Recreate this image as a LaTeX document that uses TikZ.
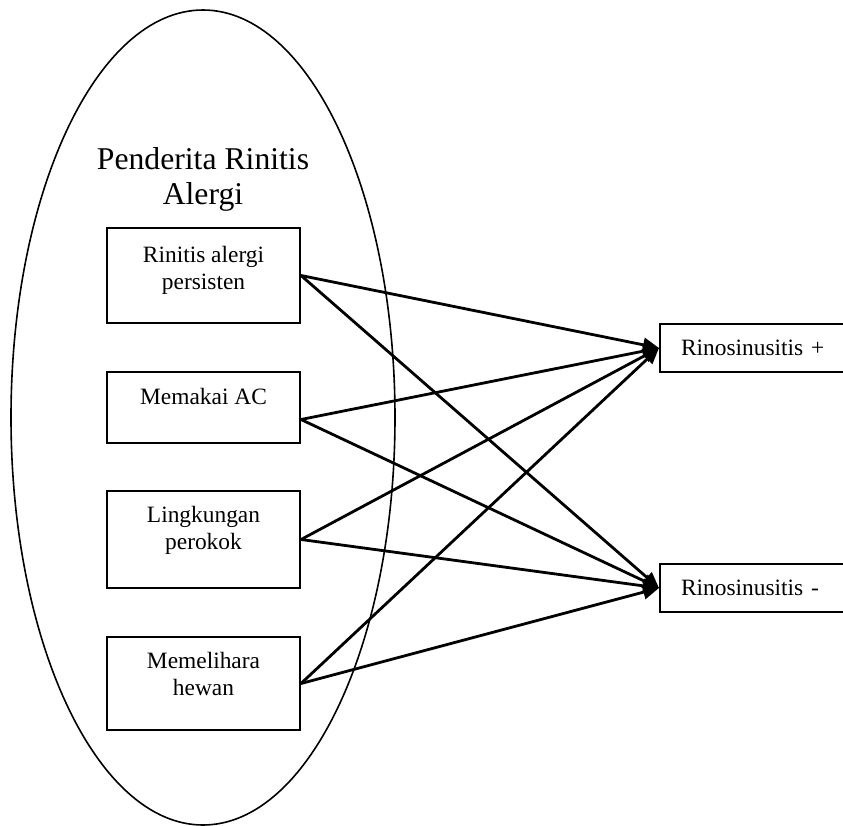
\documentclass[tikz,border=0pt]{standalone}
\usepackage{fontspec}
\setmainfont{Liberation Serif}
\usetikzlibrary{arrows.meta,positioning}
\tikzset{>/.tip={Triangle[length=8pt,width=7pt]},
  factor/.style={draw,line width=1pt,minimum width=96.5pt},
  factortext/.style={inner sep=0pt,align=center,font=\fontsize{11.7}{13.5}\selectfont},
  outcome/.style={draw,line width=1pt,anchor=west,minimum height=24pt,inner xsep=10.5pt,
    text width=100pt,align=left,font=\fontsize{11.7}{13.5}\selectfont},
  link/.style={->,line width=1.4pt}}

\begin{document}
\begin{tikzpicture}[x=0.5pt,y=-0.5pt]
\useasboundingbox (0,0) rectangle (843,826);
\clip (0,0) rectangle (843,826);
\draw[line width=0.8pt] (203,417.5) ellipse [x radius=192, y radius=407.5];
\node (title) [anchor=north,inner sep=0pt,align=center,font=\fontsize{15.85}{17.5}\selectfont]
  at (203,147.5) {Penderita Rinitis\\Alergi};
% risk factors
\node[factor,minimum height=47.5pt] (f1) at (203.5,275.5) {};
\node[factor,minimum height=35.5pt] (f2) at (203.5,407.5) {};
\node[factor,minimum height=48.5pt] (f3) at (203.5,539.5) {};
\node[factor,minimum height=46.5pt] (f4) at (203.5,683.5) {};
\node[factortext,below=9.5pt of f1.north] (t1) {Rinitis alergi\\persisten};
\node[factortext,below=8.5pt of f2.north] (t2) {Memakai AC};
\node[factortext,below=8pt of f3.north] (t3) {Lingkungan\\perokok};
\node[factortext,below=8pt of f4.north] (t4) {Memelihara\\hewan};
% outcomes
\node[outcome] (rp) at (659,348) {Rinosinusitis +};
\node[outcome] (rm) at (659,588) {Rinosinusitis -};
\foreach \f in {f1,f3,f4}
{
  \foreach \r in {rp,rm}
  {
    \draw[link] (\f.east) -- (\r.west);
  }
}
\foreach \r in {rp,rm}
  \draw[link] ([yshift=-6pt]f2.east) -- (\r.west);
\end{tikzpicture}
\end{document}
